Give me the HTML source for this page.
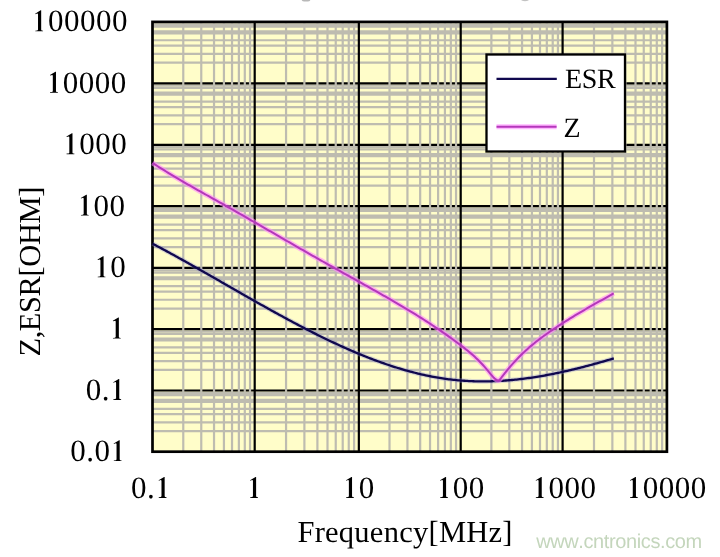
<!DOCTYPE html>
<html><head><meta charset="utf-8"><style>
html,body{margin:0;padding:0;background:#fff;width:720px;height:557px;overflow:hidden}
svg{display:block;filter:blur(0.35px)}
text{font-family:"Liberation Serif",serif;font-size:30px;fill:#000;font-kerning:none;text-rendering:geometricPrecision}
</style></head><body>
<svg width="720" height="557" viewBox="0 0 720 557">
<rect x="152.5" y="21.9" width="514.4" height="429.8" fill="#FFFDC9"/>
<path d="M152.5 62.70H666.9M152.5 53.90H666.9M152.5 45.70H666.9M152.5 40.25H666.9M152.5 33.30H666.9M152.5 31.30H666.9M152.5 26.60H666.9M152.5 24.30H666.9M152.5 124.17H666.9M152.5 115.35H666.9M152.5 107.14H666.9M152.5 101.68H666.9M152.5 94.72H666.9M152.5 92.72H666.9M152.5 88.01H666.9M152.5 85.70H666.9M152.5 185.60H666.9M152.5 176.80H666.9M152.5 168.60H666.9M152.5 163.15H666.9M152.5 156.20H666.9M152.5 154.20H666.9M152.5 149.50H666.9M152.5 147.20H666.9M152.5 247.17H666.9M152.5 238.33H666.9M152.5 230.10H666.9M152.5 224.62H666.9M152.5 217.65H666.9M152.5 215.64H666.9M152.5 210.92H666.9M152.5 208.61H666.9M152.5 308.55H666.9M152.5 299.77H666.9M152.5 291.59H666.9M152.5 286.16H666.9M152.5 279.22H666.9M152.5 277.23H666.9M152.5 272.54H666.9M152.5 270.24H666.9M152.5 369.90H666.9M152.5 361.10H666.9M152.5 352.90H666.9M152.5 347.45H666.9M152.5 340.50H666.9M152.5 338.50H666.9M152.5 333.80H666.9M152.5 331.50H666.9M152.5 431.17H666.9M152.5 422.40H666.9M152.5 414.22H666.9M152.5 408.79H666.9M152.5 401.86H666.9M152.5 399.87H666.9M152.5 395.18H666.9M152.5 392.89H666.9" stroke="#BEBCB0" stroke-width="2.2" fill="none"/>
<path d="M152.5 83.3H666.9M152.5 144.8H666.9M152.5 206.2H666.9M152.5 267.85H666.9M152.5 329.1H666.9M152.5 390.5H666.9" stroke="#000000" stroke-width="2.2" fill="none"/>
<path d="M183.27 21.9V451.7M201.26 21.9V451.7M214.03 21.9V451.7M223.93 21.9V451.7M232.03 21.9V451.7M238.87 21.9V451.7M244.80 21.9V451.7M250.02 21.9V451.7M286.05 21.9V451.7M304.39 21.9V451.7M317.40 21.9V451.7M327.50 21.9V451.7M335.74 21.9V451.7M342.72 21.9V451.7M348.76 21.9V451.7M354.08 21.9V451.7M389.51 21.9V451.7M407.44 21.9V451.7M420.17 21.9V451.7M430.04 21.9V451.7M438.10 21.9V451.7M444.92 21.9V451.7M450.83 21.9V451.7M456.04 21.9V451.7M491.37 21.9V451.7M509.32 21.9V451.7M522.05 21.9V451.7M531.93 21.9V451.7M539.99 21.9V451.7M546.82 21.9V451.7M552.72 21.9V451.7M557.94 21.9V451.7M594.00 21.9V451.7M612.36 21.9V451.7M625.39 21.9V451.7M635.50 21.9V451.7M643.76 21.9V451.7M650.74 21.9V451.7M656.79 21.9V451.7M662.13 21.9V451.7" stroke="#BEBCB0" stroke-width="2.2" fill="none"/>
<path d="M254.7 21.9V451.7M358.85 21.9V451.7M460.7 21.9V451.7M562.6 21.9V451.7" stroke="#000000" stroke-width="2.2" fill="none"/>
<rect x="152.5" y="21.9" width="514.4" height="429.8" fill="none" stroke="#000" stroke-width="2.7"/>
<path d="M152.60 243.71L154.14 244.52L155.68 245.34L157.23 246.15L158.77 246.98L160.31 247.80L161.85 248.63L163.40 249.46L164.94 250.29L166.48 251.13L168.02 251.97L169.57 252.81L171.11 253.65L172.65 254.50L174.19 255.35L175.74 256.20L177.28 257.05L178.82 257.90L180.36 258.76L181.91 259.62L183.45 260.48L184.99 261.34L186.53 262.20L188.08 263.07L189.62 263.93L191.16 264.80L192.70 265.67L194.25 266.54L195.79 267.41L197.33 268.29L198.87 269.16L200.42 270.04L201.96 270.92L203.50 271.79L205.04 272.67L206.59 273.55L208.13 274.43L209.67 275.31L211.21 276.20L212.76 277.08L214.30 277.96L215.84 278.85L217.38 279.73L218.93 280.61L220.47 281.50L222.01 282.38L223.55 283.27L225.10 284.15L226.64 285.04L228.18 285.92L229.72 286.81L231.27 287.69L232.81 288.58L234.35 289.46L235.89 290.35L237.44 291.23L238.98 292.11L240.52 293.00L242.06 293.88L243.61 294.76L245.15 295.64L246.69 296.52L248.23 297.40L249.78 298.27L251.32 299.15L252.86 300.03L254.40 300.90L255.95 301.77L257.49 302.64L259.03 303.51L260.57 304.38L262.12 305.25L263.66 306.12L265.20 306.98L266.74 307.84L268.29 308.70L269.83 309.56L271.37 310.42L272.91 311.27L274.46 312.13L276.00 312.98L277.54 313.83L279.08 314.67L280.63 315.52L282.17 316.36L283.71 317.20L285.25 318.04L286.80 318.87L288.34 319.70L289.88 320.53L291.42 321.36L292.97 322.18L294.51 323.00L296.05 323.82L297.59 324.63L299.14 325.45L300.68 326.25L302.22 327.06L303.76 327.86L305.31 328.66L306.85 329.46L308.39 330.25L309.93 331.04L311.47 331.82L313.02 332.60L314.56 333.38L316.10 334.15L317.64 334.92L319.19 335.69L320.73 336.45L322.27 337.21L323.81 337.96L325.36 338.71L326.90 339.46L328.44 340.20L329.98 340.93L331.53 341.67L333.07 342.39L334.61 343.12L336.15 343.83L337.70 344.55L339.24 345.26L340.78 345.96L342.32 346.66L343.87 347.35L345.41 348.04L346.95 348.73L348.49 349.40L350.04 350.08L351.58 350.75L353.12 351.41L354.66 352.07L356.21 352.72L357.75 353.36L359.29 354.01L360.83 354.64L362.38 355.27L363.92 355.89L365.46 356.51L367.00 357.12L368.55 357.73L370.09 358.33L371.63 358.92L373.17 359.51L374.72 360.09L376.26 360.66L377.80 361.23L379.34 361.79L380.89 362.35L382.43 362.89L383.97 363.44L385.51 363.97L387.06 364.50L388.60 365.02L390.14 365.53L391.68 366.04L393.23 366.54L394.77 367.03L396.31 367.52L397.85 368.00L399.40 368.47L400.94 368.93L402.48 369.39L404.02 369.84L405.57 370.28L407.11 370.71L408.65 371.14L410.19 371.55L411.74 371.96L413.28 372.37L414.82 372.76L416.36 373.15L417.91 373.52L419.45 373.89L420.99 374.26L422.53 374.61L424.08 374.95L425.62 375.29L427.16 375.62L428.70 375.94L430.25 376.25L431.79 376.55L433.33 376.84L434.87 377.12L436.42 377.40L437.96 377.67L439.50 377.92L441.04 378.17L442.59 378.41L444.13 378.64L445.67 378.86L447.21 379.07L448.76 379.27L450.30 379.46L451.84 379.65L453.38 379.82L454.93 379.98L456.47 380.14L458.01 380.28L459.55 380.42L461.09 380.54L462.64 380.66L464.18 380.77L465.72 380.87L467.26 380.96L468.81 381.04L470.35 381.11L471.89 381.18L473.43 381.23L474.98 381.28L476.52 381.32L478.06 381.35L479.60 381.37L481.15 381.38L482.69 381.39L484.23 381.38L485.77 381.37L487.32 381.35L488.86 381.32L490.40 381.29L491.94 381.24L493.49 381.19L495.03 381.13L496.57 381.07L498.11 380.99L499.66 380.91L501.20 380.82L502.74 380.73L504.28 380.62L505.83 380.51L507.37 380.39L508.91 380.26L510.45 380.13L512.00 379.99L513.54 379.84L515.08 379.69L516.62 379.53L518.17 379.36L519.71 379.19L521.25 379.01L522.79 378.82L524.34 378.62L525.88 378.42L527.42 378.22L528.96 378.00L530.51 377.78L532.05 377.56L533.59 377.33L535.13 377.09L536.68 376.84L538.22 376.59L539.76 376.34L541.30 376.07L542.85 375.81L544.39 375.53L545.93 375.25L547.47 374.97L549.02 374.68L550.56 374.38L552.10 374.08L553.64 373.78L555.19 373.47L556.73 373.15L558.27 372.83L559.81 372.50L561.36 372.17L562.90 371.83L564.44 371.49L565.98 371.14L567.53 370.79L569.07 370.44L570.61 370.08L572.15 369.71L573.70 369.34L575.24 368.97L576.78 368.59L578.32 368.21L579.87 367.82L581.41 367.43L582.95 367.03L584.49 366.63L586.04 366.23L587.58 365.82L589.12 365.41L590.66 365.00L592.21 364.58L593.75 364.16L595.29 363.73L596.83 363.30L598.38 362.87L599.92 362.43L601.46 362.00L603.00 361.55L604.55 361.11L606.09 360.66L607.63 360.21L609.17 359.75L610.72 359.29L612.26 358.83L613.80 358.37" stroke="#9090D0" stroke-opacity="0.35" stroke-width="4.6" fill="none" stroke-linejoin="round"/>
<path d="M152.60 243.71L154.14 244.52L155.68 245.34L157.23 246.15L158.77 246.98L160.31 247.80L161.85 248.63L163.40 249.46L164.94 250.29L166.48 251.13L168.02 251.97L169.57 252.81L171.11 253.65L172.65 254.50L174.19 255.35L175.74 256.20L177.28 257.05L178.82 257.90L180.36 258.76L181.91 259.62L183.45 260.48L184.99 261.34L186.53 262.20L188.08 263.07L189.62 263.93L191.16 264.80L192.70 265.67L194.25 266.54L195.79 267.41L197.33 268.29L198.87 269.16L200.42 270.04L201.96 270.92L203.50 271.79L205.04 272.67L206.59 273.55L208.13 274.43L209.67 275.31L211.21 276.20L212.76 277.08L214.30 277.96L215.84 278.85L217.38 279.73L218.93 280.61L220.47 281.50L222.01 282.38L223.55 283.27L225.10 284.15L226.64 285.04L228.18 285.92L229.72 286.81L231.27 287.69L232.81 288.58L234.35 289.46L235.89 290.35L237.44 291.23L238.98 292.11L240.52 293.00L242.06 293.88L243.61 294.76L245.15 295.64L246.69 296.52L248.23 297.40L249.78 298.27L251.32 299.15L252.86 300.03L254.40 300.90L255.95 301.77L257.49 302.64L259.03 303.51L260.57 304.38L262.12 305.25L263.66 306.12L265.20 306.98L266.74 307.84L268.29 308.70L269.83 309.56L271.37 310.42L272.91 311.27L274.46 312.13L276.00 312.98L277.54 313.83L279.08 314.67L280.63 315.52L282.17 316.36L283.71 317.20L285.25 318.04L286.80 318.87L288.34 319.70L289.88 320.53L291.42 321.36L292.97 322.18L294.51 323.00L296.05 323.82L297.59 324.63L299.14 325.45L300.68 326.25L302.22 327.06L303.76 327.86L305.31 328.66L306.85 329.46L308.39 330.25L309.93 331.04L311.47 331.82L313.02 332.60L314.56 333.38L316.10 334.15L317.64 334.92L319.19 335.69L320.73 336.45L322.27 337.21L323.81 337.96L325.36 338.71L326.90 339.46L328.44 340.20L329.98 340.93L331.53 341.67L333.07 342.39L334.61 343.12L336.15 343.83L337.70 344.55L339.24 345.26L340.78 345.96L342.32 346.66L343.87 347.35L345.41 348.04L346.95 348.73L348.49 349.40L350.04 350.08L351.58 350.75L353.12 351.41L354.66 352.07L356.21 352.72L357.75 353.36L359.29 354.01L360.83 354.64L362.38 355.27L363.92 355.89L365.46 356.51L367.00 357.12L368.55 357.73L370.09 358.33L371.63 358.92L373.17 359.51L374.72 360.09L376.26 360.66L377.80 361.23L379.34 361.79L380.89 362.35L382.43 362.89L383.97 363.44L385.51 363.97L387.06 364.50L388.60 365.02L390.14 365.53L391.68 366.04L393.23 366.54L394.77 367.03L396.31 367.52L397.85 368.00L399.40 368.47L400.94 368.93L402.48 369.39L404.02 369.84L405.57 370.28L407.11 370.71L408.65 371.14L410.19 371.55L411.74 371.96L413.28 372.37L414.82 372.76L416.36 373.15L417.91 373.52L419.45 373.89L420.99 374.26L422.53 374.61L424.08 374.95L425.62 375.29L427.16 375.62L428.70 375.94L430.25 376.25L431.79 376.55L433.33 376.84L434.87 377.12L436.42 377.40L437.96 377.67L439.50 377.92L441.04 378.17L442.59 378.41L444.13 378.64L445.67 378.86L447.21 379.07L448.76 379.27L450.30 379.46L451.84 379.65L453.38 379.82L454.93 379.98L456.47 380.14L458.01 380.28L459.55 380.42L461.09 380.54L462.64 380.66L464.18 380.77L465.72 380.87L467.26 380.96L468.81 381.04L470.35 381.11L471.89 381.18L473.43 381.23L474.98 381.28L476.52 381.32L478.06 381.35L479.60 381.37L481.15 381.38L482.69 381.39L484.23 381.38L485.77 381.37L487.32 381.35L488.86 381.32L490.40 381.29L491.94 381.24L493.49 381.19L495.03 381.13L496.57 381.07L498.11 380.99L499.66 380.91L501.20 380.82L502.74 380.73L504.28 380.62L505.83 380.51L507.37 380.39L508.91 380.26L510.45 380.13L512.00 379.99L513.54 379.84L515.08 379.69L516.62 379.53L518.17 379.36L519.71 379.19L521.25 379.01L522.79 378.82L524.34 378.62L525.88 378.42L527.42 378.22L528.96 378.00L530.51 377.78L532.05 377.56L533.59 377.33L535.13 377.09L536.68 376.84L538.22 376.59L539.76 376.34L541.30 376.07L542.85 375.81L544.39 375.53L545.93 375.25L547.47 374.97L549.02 374.68L550.56 374.38L552.10 374.08L553.64 373.78L555.19 373.47L556.73 373.15L558.27 372.83L559.81 372.50L561.36 372.17L562.90 371.83L564.44 371.49L565.98 371.14L567.53 370.79L569.07 370.44L570.61 370.08L572.15 369.71L573.70 369.34L575.24 368.97L576.78 368.59L578.32 368.21L579.87 367.82L581.41 367.43L582.95 367.03L584.49 366.63L586.04 366.23L587.58 365.82L589.12 365.41L590.66 365.00L592.21 364.58L593.75 364.16L595.29 363.73L596.83 363.30L598.38 362.87L599.92 362.43L601.46 362.00L603.00 361.55L604.55 361.11L606.09 360.66L607.63 360.21L609.17 359.75L610.72 359.29L612.26 358.83L613.80 358.37" stroke="#10084E" stroke-width="2.3" fill="none" stroke-linejoin="round"/>
<path d="M152.60 162.96L154.29 164.05L155.97 165.14L157.66 166.22L159.34 167.30L161.03 168.36L162.71 169.42L164.40 170.47L166.08 171.51L167.77 172.54L169.45 173.57L171.14 174.59L172.83 175.61L174.51 176.62L176.20 177.62L177.88 178.62L179.57 179.61L181.25 180.60L182.94 181.58L184.62 182.56L186.31 183.54L187.99 184.51L189.68 185.48L191.36 186.44L193.05 187.40L194.74 188.36L196.42 189.31L198.11 190.26L199.79 191.22L201.48 192.16L203.16 193.11L204.85 194.06L206.53 195.00L208.22 195.94L209.90 196.89L211.59 197.83L213.28 198.77L214.96 199.71L216.65 200.66L218.33 201.60L220.02 202.55L221.70 203.49L223.39 204.44L225.07 205.39L226.76 206.34L228.44 207.29L230.13 208.25L231.82 209.20L233.50 210.16L235.19 211.12L236.87 212.08L238.56 213.04L240.24 214.00L241.93 214.97L243.61 215.93L245.30 216.90L246.98 217.87L248.67 218.84L250.35 219.81L252.04 220.78L253.73 221.75L255.41 222.72L257.10 223.69L258.78 224.67L260.47 225.64L262.15 226.61L263.84 227.59L265.52 228.56L267.21 229.54L268.89 230.51L270.58 231.49L272.27 232.47L273.95 233.44L275.64 234.42L277.32 235.40L279.01 236.37L280.69 237.35L282.38 238.32L284.06 239.30L285.75 240.27L287.43 241.25L289.12 242.22L290.81 243.19L292.49 244.17L294.18 245.14L295.86 246.11L297.55 247.08L299.23 248.05L300.92 249.02L302.60 249.99L304.29 250.95L305.97 251.92L307.66 252.88L309.34 253.85L311.03 254.81L312.72 255.77L314.40 256.73L316.09 257.69L317.77 258.64L319.46 259.60L321.14 260.55L322.83 261.50L324.51 262.45L326.20 263.40L327.88 264.34L329.57 265.29L331.26 266.24L332.94 267.18L334.63 268.12L336.31 269.06L338.00 270.00L339.68 270.94L341.37 271.88L343.05 272.82L344.74 273.76L346.42 274.70L348.11 275.64L349.79 276.58L351.48 277.52L353.17 278.46L354.85 279.40L356.54 280.34L358.22 281.28L359.91 282.22L361.59 283.16L363.28 284.11L364.96 285.05L366.65 285.99L368.33 286.94L370.02 287.89L371.71 288.84L373.39 289.79L375.08 290.74L376.76 291.69L378.45 292.65L380.13 293.60L381.82 294.56L383.50 295.52L385.19 296.49L386.87 297.45L388.56 298.42L390.25 299.39L391.93 300.37L393.62 301.35L395.30 302.33L396.99 303.31L398.67 304.30L400.36 305.30L402.04 306.30L403.73 307.30L405.41 308.31L407.10 309.32L408.78 310.34L410.47 311.36L412.16 312.39L413.84 313.42L415.53 314.46L417.21 315.51L418.90 316.56L420.58 317.62L422.27 318.69L423.95 319.76L425.64 320.84L427.32 321.93L429.01 323.02L430.70 324.13L432.38 325.24L434.07 326.36L435.75 327.49L437.44 328.62L439.12 329.77L440.81 330.92L442.49 332.08L444.18 333.26L445.86 334.44L447.55 335.63L449.24 336.83L450.92 338.05L452.61 339.27L454.29 340.50L455.98 341.74L457.66 343.00L459.35 344.27L461.03 345.54L462.72 346.83L464.40 348.14L466.09 349.47L467.77 350.82L469.46 352.21L471.15 353.63L472.83 355.10L474.52 356.61L476.20 358.17L477.89 359.78L479.57 361.45L481.26 363.19L482.94 364.99L484.63 366.87L486.31 368.83L488.00 370.87L488.28 371.21L488.56 371.56L488.84 371.90L489.11 372.25L489.39 372.60L489.67 372.94L489.95 373.29L490.23 373.63L490.51 373.97L490.78 374.31L491.06 374.64L491.34 374.97L491.62 375.30L491.90 375.62L492.18 375.94L492.46 376.25L492.73 376.55L493.01 376.85L493.29 377.14L493.57 377.43L493.85 377.70L494.13 377.97L494.41 378.23L494.68 378.48L494.96 378.72L495.24 378.95L495.52 379.16L495.80 379.37L496.08 379.56L496.35 379.75L496.63 379.91L496.91 380.06L497.19 380.20L497.47 380.31L497.75 380.40L498.03 380.46L498.30 380.47L498.58 380.43L498.86 380.33L499.14 380.18L499.42 379.96L499.70 379.70L499.97 379.39L500.25 379.06L500.53 378.72L500.81 378.36L501.09 378.00L501.37 377.64L501.65 377.27L501.92 376.91L502.20 376.55L502.48 376.18L502.76 375.82L503.04 375.46L503.32 375.10L503.59 374.75L503.87 374.39L504.15 374.03L504.43 373.68L504.71 373.33L504.99 372.98L505.27 372.63L505.54 372.28L505.82 371.94L506.10 371.59L506.38 371.25L506.66 370.91L506.94 370.57L507.22 370.23L507.49 369.89L507.77 369.55L508.05 369.22L508.33 368.88L508.61 368.55L508.89 368.22L509.16 367.89L509.44 367.56L509.72 367.24L510.00 366.91L511.76 364.89L513.52 362.92L515.27 361.00L517.03 359.13L518.79 357.31L520.55 355.54L522.30 353.81L524.06 352.14L525.82 350.51L527.58 348.92L529.33 347.37L531.09 345.87L532.85 344.40L534.61 342.97L536.36 341.56L538.12 340.19L539.88 338.85L541.64 337.54L543.39 336.25L545.15 334.98L546.91 333.73L548.67 332.50L550.43 331.28L552.18 330.08L553.94 328.88L555.70 327.71L557.46 326.54L559.21 325.39L560.97 324.25L562.73 323.12L564.49 321.99L566.24 320.88L568.00 319.78L569.76 318.69L571.52 317.61L573.27 316.54L575.03 315.48L576.79 314.42L578.55 313.37L580.31 312.33L582.06 311.29L583.82 310.27L585.58 309.24L587.34 308.23L589.09 307.22L590.85 306.21L592.61 305.21L594.37 304.21L596.12 303.22L597.88 302.23L599.64 301.24L601.40 300.26L603.15 299.27L604.91 298.29L606.67 297.31L608.43 296.34L610.18 295.36L611.94 294.38L613.70 293.40" stroke="#FF88FF" stroke-opacity="0.6" stroke-width="5.0" fill="none" stroke-linejoin="round"/>
<path d="M152.60 162.96L154.29 164.05L155.97 165.14L157.66 166.22L159.34 167.30L161.03 168.36L162.71 169.42L164.40 170.47L166.08 171.51L167.77 172.54L169.45 173.57L171.14 174.59L172.83 175.61L174.51 176.62L176.20 177.62L177.88 178.62L179.57 179.61L181.25 180.60L182.94 181.58L184.62 182.56L186.31 183.54L187.99 184.51L189.68 185.48L191.36 186.44L193.05 187.40L194.74 188.36L196.42 189.31L198.11 190.26L199.79 191.22L201.48 192.16L203.16 193.11L204.85 194.06L206.53 195.00L208.22 195.94L209.90 196.89L211.59 197.83L213.28 198.77L214.96 199.71L216.65 200.66L218.33 201.60L220.02 202.55L221.70 203.49L223.39 204.44L225.07 205.39L226.76 206.34L228.44 207.29L230.13 208.25L231.82 209.20L233.50 210.16L235.19 211.12L236.87 212.08L238.56 213.04L240.24 214.00L241.93 214.97L243.61 215.93L245.30 216.90L246.98 217.87L248.67 218.84L250.35 219.81L252.04 220.78L253.73 221.75L255.41 222.72L257.10 223.69L258.78 224.67L260.47 225.64L262.15 226.61L263.84 227.59L265.52 228.56L267.21 229.54L268.89 230.51L270.58 231.49L272.27 232.47L273.95 233.44L275.64 234.42L277.32 235.40L279.01 236.37L280.69 237.35L282.38 238.32L284.06 239.30L285.75 240.27L287.43 241.25L289.12 242.22L290.81 243.19L292.49 244.17L294.18 245.14L295.86 246.11L297.55 247.08L299.23 248.05L300.92 249.02L302.60 249.99L304.29 250.95L305.97 251.92L307.66 252.88L309.34 253.85L311.03 254.81L312.72 255.77L314.40 256.73L316.09 257.69L317.77 258.64L319.46 259.60L321.14 260.55L322.83 261.50L324.51 262.45L326.20 263.40L327.88 264.34L329.57 265.29L331.26 266.24L332.94 267.18L334.63 268.12L336.31 269.06L338.00 270.00L339.68 270.94L341.37 271.88L343.05 272.82L344.74 273.76L346.42 274.70L348.11 275.64L349.79 276.58L351.48 277.52L353.17 278.46L354.85 279.40L356.54 280.34L358.22 281.28L359.91 282.22L361.59 283.16L363.28 284.11L364.96 285.05L366.65 285.99L368.33 286.94L370.02 287.89L371.71 288.84L373.39 289.79L375.08 290.74L376.76 291.69L378.45 292.65L380.13 293.60L381.82 294.56L383.50 295.52L385.19 296.49L386.87 297.45L388.56 298.42L390.25 299.39L391.93 300.37L393.62 301.35L395.30 302.33L396.99 303.31L398.67 304.30L400.36 305.30L402.04 306.30L403.73 307.30L405.41 308.31L407.10 309.32L408.78 310.34L410.47 311.36L412.16 312.39L413.84 313.42L415.53 314.46L417.21 315.51L418.90 316.56L420.58 317.62L422.27 318.69L423.95 319.76L425.64 320.84L427.32 321.93L429.01 323.02L430.70 324.13L432.38 325.24L434.07 326.36L435.75 327.49L437.44 328.62L439.12 329.77L440.81 330.92L442.49 332.08L444.18 333.26L445.86 334.44L447.55 335.63L449.24 336.83L450.92 338.05L452.61 339.27L454.29 340.50L455.98 341.74L457.66 343.00L459.35 344.27L461.03 345.54L462.72 346.83L464.40 348.14L466.09 349.47L467.77 350.82L469.46 352.21L471.15 353.63L472.83 355.10L474.52 356.61L476.20 358.17L477.89 359.78L479.57 361.45L481.26 363.19L482.94 364.99L484.63 366.87L486.31 368.83L488.00 370.87L488.28 371.21L488.56 371.56L488.84 371.90L489.11 372.25L489.39 372.60L489.67 372.94L489.95 373.29L490.23 373.63L490.51 373.97L490.78 374.31L491.06 374.64L491.34 374.97L491.62 375.30L491.90 375.62L492.18 375.94L492.46 376.25L492.73 376.55L493.01 376.85L493.29 377.14L493.57 377.43L493.85 377.70L494.13 377.97L494.41 378.23L494.68 378.48L494.96 378.72L495.24 378.95L495.52 379.16L495.80 379.37L496.08 379.56L496.35 379.75L496.63 379.91L496.91 380.06L497.19 380.20L497.47 380.31L497.75 380.40L498.03 380.46L498.30 380.47L498.58 380.43L498.86 380.33L499.14 380.18L499.42 379.96L499.70 379.70L499.97 379.39L500.25 379.06L500.53 378.72L500.81 378.36L501.09 378.00L501.37 377.64L501.65 377.27L501.92 376.91L502.20 376.55L502.48 376.18L502.76 375.82L503.04 375.46L503.32 375.10L503.59 374.75L503.87 374.39L504.15 374.03L504.43 373.68L504.71 373.33L504.99 372.98L505.27 372.63L505.54 372.28L505.82 371.94L506.10 371.59L506.38 371.25L506.66 370.91L506.94 370.57L507.22 370.23L507.49 369.89L507.77 369.55L508.05 369.22L508.33 368.88L508.61 368.55L508.89 368.22L509.16 367.89L509.44 367.56L509.72 367.24L510.00 366.91L511.76 364.89L513.52 362.92L515.27 361.00L517.03 359.13L518.79 357.31L520.55 355.54L522.30 353.81L524.06 352.14L525.82 350.51L527.58 348.92L529.33 347.37L531.09 345.87L532.85 344.40L534.61 342.97L536.36 341.56L538.12 340.19L539.88 338.85L541.64 337.54L543.39 336.25L545.15 334.98L546.91 333.73L548.67 332.50L550.43 331.28L552.18 330.08L553.94 328.88L555.70 327.71L557.46 326.54L559.21 325.39L560.97 324.25L562.73 323.12L564.49 321.99L566.24 320.88L568.00 319.78L569.76 318.69L571.52 317.61L573.27 316.54L575.03 315.48L576.79 314.42L578.55 313.37L580.31 312.33L582.06 311.29L583.82 310.27L585.58 309.24L587.34 308.23L589.09 307.22L590.85 306.21L592.61 305.21L594.37 304.21L596.12 303.22L597.88 302.23L599.64 301.24L601.40 300.26L603.15 299.27L604.91 298.29L606.67 297.31L608.43 296.34L610.18 295.36L611.94 294.38L613.70 293.40" stroke="#B536BB" stroke-width="2.0" fill="none" stroke-linejoin="round"/>
<ellipse cx="306" cy="0.2" rx="4.2" ry="1.3" fill="#9a9a9a" opacity="0.7"/>
<ellipse cx="525" cy="0.1" rx="3.6" ry="1.1" fill="#9a9a9a" opacity="0.6"/>
<rect x="486.5" y="54.5" width="138.5" height="97" fill="#fff" stroke="#000" stroke-width="2.3"/>
<path d="M496.5 78.9H556.8" stroke="#10084E" stroke-width="2.3"/>
<path d="M496.5 126.8H556.6" stroke="#FF88FF" stroke-opacity="0.6" stroke-width="5.0"/>
<path d="M496.5 126.8H556.6" stroke="#B536BB" stroke-width="2.0"/>
<path transform="translate(31.88 31.30) scale(31 -31)" d="M0.11 0L0.36 0L0.36 0.02Q0.302 0.022 0.3 0.05L0.3 0.676L0.282 0.676L0.106 0.57L0.113 0.553Q0.158 0.574 0.176 0.574Q0.198 0.574 0.198 0.54L0.198 0.05Q0.196 0.022 0.11 0.02Z"/><text x="47.88 63.88 79.88 95.88 111.88" y="31.30" style="font-size:31px">00000</text>
<path transform="translate(46.68 92.70) scale(31 -31)" d="M0.11 0L0.36 0L0.36 0.02Q0.302 0.022 0.3 0.05L0.3 0.676L0.282 0.676L0.106 0.57L0.113 0.553Q0.158 0.574 0.176 0.574Q0.198 0.574 0.198 0.54L0.198 0.05Q0.196 0.022 0.11 0.02Z"/><text x="62.68 78.68 94.68 110.68" y="92.70" style="font-size:31px">0000</text>
<path transform="translate(63.18 154.20) scale(31 -31)" d="M0.11 0L0.36 0L0.36 0.02Q0.302 0.022 0.3 0.05L0.3 0.676L0.282 0.676L0.106 0.57L0.113 0.553Q0.158 0.574 0.176 0.574Q0.198 0.574 0.198 0.54L0.198 0.05Q0.196 0.022 0.11 0.02Z"/><text x="79.18 95.18 111.18" y="154.20" style="font-size:31px">000</text>
<path transform="translate(77.54 215.60) scale(31 -31)" d="M0.11 0L0.36 0L0.36 0.02Q0.302 0.022 0.3 0.05L0.3 0.676L0.282 0.676L0.106 0.57L0.113 0.553Q0.158 0.574 0.176 0.574Q0.198 0.574 0.198 0.54L0.198 0.05Q0.196 0.022 0.11 0.02Z"/><text x="93.54 109.54" y="215.60" style="font-size:31px">00</text>
<path transform="translate(94.29 277.25) scale(31 -31)" d="M0.11 0L0.36 0L0.36 0.02Q0.302 0.022 0.3 0.05L0.3 0.676L0.282 0.676L0.106 0.57L0.113 0.553Q0.158 0.574 0.176 0.574Q0.198 0.574 0.198 0.54L0.198 0.05Q0.196 0.022 0.11 0.02Z"/><text x="110.29" y="277.25" style="font-size:31px">0</text>
<path transform="translate(109.56 338.50) scale(31 -31)" d="M0.11 0L0.36 0L0.36 0.02Q0.302 0.022 0.3 0.05L0.3 0.676L0.282 0.676L0.106 0.57L0.113 0.553Q0.158 0.574 0.176 0.574Q0.198 0.574 0.198 0.54L0.198 0.05Q0.196 0.022 0.11 0.02Z"/>
<path transform="translate(109.95 399.90) scale(31 -31)" d="M0.11 0L0.36 0L0.36 0.02Q0.302 0.022 0.3 0.05L0.3 0.676L0.282 0.676L0.106 0.57L0.113 0.553Q0.158 0.574 0.176 0.574Q0.198 0.574 0.198 0.54L0.198 0.05Q0.196 0.022 0.11 0.02Z"/><text x="85.70 101.70" y="399.90" style="font-size:31px">0.</text>
<path transform="translate(110.40 461.10) scale(31 -31)" d="M0.11 0L0.36 0L0.36 0.02Q0.302 0.022 0.3 0.05L0.3 0.676L0.282 0.676L0.106 0.57L0.113 0.553Q0.158 0.574 0.176 0.574Q0.198 0.574 0.198 0.54L0.198 0.05Q0.196 0.022 0.11 0.02Z"/><text x="70.15 86.15 94.40" y="461.10" style="font-size:31px">0.0</text>
<path transform="translate(155.35 497.90) scale(31 -31)" d="M0.11 0L0.36 0L0.36 0.02Q0.302 0.022 0.3 0.05L0.3 0.676L0.282 0.676L0.106 0.57L0.113 0.553Q0.158 0.574 0.176 0.574Q0.198 0.574 0.198 0.54L0.198 0.05Q0.196 0.022 0.11 0.02Z"/><text x="131.10 147.10" y="497.90" style="font-size:31px">0.</text>
<path transform="translate(246.81 497.90) scale(31 -31)" d="M0.11 0L0.36 0L0.36 0.02Q0.302 0.022 0.3 0.05L0.3 0.676L0.282 0.676L0.106 0.57L0.113 0.553Q0.158 0.574 0.176 0.574Q0.198 0.574 0.198 0.54L0.198 0.05Q0.196 0.022 0.11 0.02Z"/>
<path transform="translate(342.74 497.90) scale(31 -31)" d="M0.11 0L0.36 0L0.36 0.02Q0.302 0.022 0.3 0.05L0.3 0.676L0.282 0.676L0.106 0.57L0.113 0.553Q0.158 0.574 0.176 0.574Q0.198 0.574 0.198 0.54L0.198 0.05Q0.196 0.022 0.11 0.02Z"/><text x="358.74" y="497.90" style="font-size:31px">0</text>
<path transform="translate(436.79 497.90) scale(31 -31)" d="M0.11 0L0.36 0L0.36 0.02Q0.302 0.022 0.3 0.05L0.3 0.676L0.282 0.676L0.106 0.57L0.113 0.553Q0.158 0.574 0.176 0.574Q0.198 0.574 0.198 0.54L0.198 0.05Q0.196 0.022 0.11 0.02Z"/><text x="452.79 468.79" y="497.90" style="font-size:31px">00</text>
<path transform="translate(532.44 497.90) scale(31 -31)" d="M0.11 0L0.36 0L0.36 0.02Q0.302 0.022 0.3 0.05L0.3 0.676L0.282 0.676L0.106 0.57L0.113 0.553Q0.158 0.574 0.176 0.574Q0.198 0.574 0.198 0.54L0.198 0.05Q0.196 0.022 0.11 0.02Z"/><text x="548.44 564.44 580.44" y="497.90" style="font-size:31px">000</text>
<path transform="translate(626.64 497.90) scale(31 -31)" d="M0.11 0L0.36 0L0.36 0.02Q0.302 0.022 0.3 0.05L0.3 0.676L0.282 0.676L0.106 0.57L0.113 0.553Q0.158 0.574 0.176 0.574Q0.198 0.574 0.198 0.54L0.198 0.05Q0.196 0.022 0.11 0.02Z"/><text x="642.64 658.64 674.64 690.64" y="497.90" style="font-size:31px">0000</text>
<text x="297.42" y="541.70" style="font-size:30.5px;letter-spacing:0.26px">Frequency[MHz]</text>
<text transform="translate(40.3 356.56) rotate(-90)" style="font-size:30.5px;letter-spacing:-0.42px">Z,ESR[OHM]</text>
<text x="564.89" y="87.70" style="font-size:28px;letter-spacing:-0.25px">ESR</text>
<text x="563.46" y="137.40" style="font-size:28px;letter-spacing:0px">Z</text>
<text x="536.2" y="547.6" style="font-family:'Liberation Sans',sans-serif;font-size:20px;letter-spacing:-0.39px;fill:#C4D6BC">www.cntronics.com</text>
</svg>
</body></html>
